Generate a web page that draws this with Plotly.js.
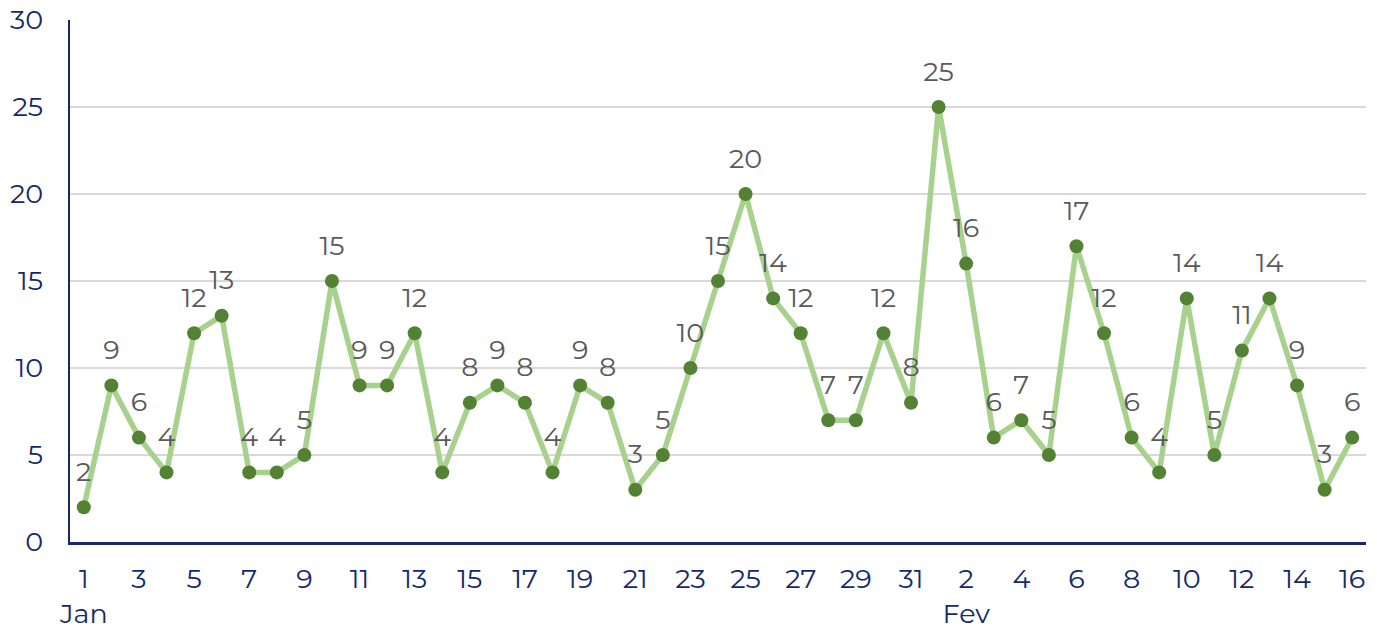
<!DOCTYPE html>
<html>
<head>
<meta charset="utf-8">
<script src="https://cdn.plot.ly/plotly-3.0.1.min.js"></script>
<style>html,body{margin:0;padding:0;background:#fff}#chart{width:1377px;height:630px}</style>
</head>
<body>
<div id="chart"></div>
<script>
const months = ["Jan", "Fev"];
const janDays = [1,2,3,4,5,6,7,8,9,10,11,12,13,14,15,16,17,18,19,20,21,22,23,24,25,26,27,28,29,30,31];
const fevDays = [1,2,3,4,5,6,7,8,9,10,11,12,13,14,15,16];
const janValues = [2,9,6,4,12,13,4,4,5,15,9,9,12,4,8,9,8,4,9,8,3,5,10,15,20,14,12,7,7,12,8];
const fevValues = [25,16,6,7,5,17,12,6,4,14,5,11,14,9,3,6];

const dayLabels = janDays.concat(fevDays);
const values = janValues.concat(fevValues);
const monthOf = janDays.map(() => months[0]).concat(fevDays.map(() => months[1]));
const xIdx = values.map((v, i) => i + 1);

const tickvals = [], ticktext = [];
let lastMonth = null;
xIdx.forEach((x, i) => {
  if (i % 2 === 0) {
    tickvals.push(x);
    let t = String(dayLabels[i]);
    if (monthOf[i] !== lastMonth) { t += "<br>" + monthOf[i]; lastMonth = monthOf[i]; }
    ticktext.push(t);
  }
});

const fontFam = "Montserrat, 'DejaVu Sans', sans-serif";
const navy = "#14296a";
const fs = 27;

const lineTrace = {
  x: xIdx, y: values,
  type: "scatter", mode: "lines+markers",
  line: {color: "#a9d18e", width: 5.5},
  marker: {color: "#548235", size: 14},
  cliponaxis: false
};
const labelTrace = {
  x: xIdx, y: values,
  type: "scatter", mode: "markers+text",
  text: values.map(String),
  textposition: "top center",
  textfont: {family: fontFam, size: fs, color: "#595959"},
  marker: {size: 30, opacity: 0, color: "#ffffff"},
  cliponaxis: false
};

const layout = {
  width: 1377, height: 630,
  margin: {l: 70, r: 11, t: 20, b: 88},
  paper_bgcolor: "#fff", plot_bgcolor: "#fff",
  showlegend: false,
  font: {family: fontFam, size: fs, color: navy},
  xaxis: {
    range: [0.5, 47.5],
    tickmode: "array", tickvals: tickvals, ticktext: ticktext,
    showgrid: false, zeroline: false,
    showline: true, linecolor: navy, linewidth: 2.5,
    ticks: "", ticklabelstandoff: 11,
    tickfont: {family: fontFam, size: fs, color: navy}
  },
  yaxis: {
    range: [0, 30], dtick: 5, tick0: 0,
    showgrid: true, gridcolor: "#d9d9d9", gridwidth: 1.5,
    zeroline: false,
    showline: true, linecolor: navy, linewidth: 2.5,
    ticks: "", ticklabelstandoff: 19,
    tickfont: {family: fontFam, size: fs, color: navy}
  }
};

Plotly.newPlot("chart", [lineTrace, labelTrace], layout, {displayModeBar: false, staticPlot: true});
</script>
</body>
</html>
